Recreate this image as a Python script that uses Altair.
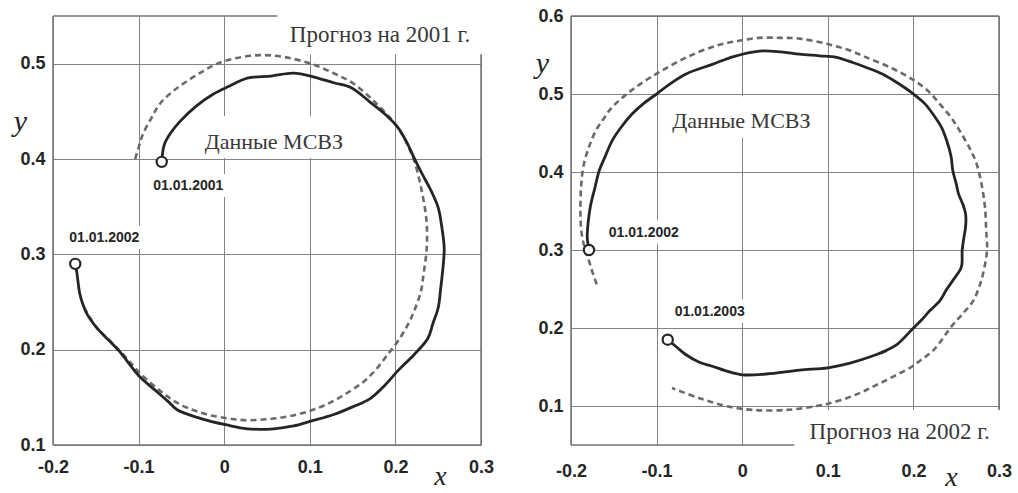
import altair as alt
import pandas as pd

# ---------------- data ----------------
# Left panel (forecast for 2001)
l_solid_x = [-0.073, -0.070, -0.062, -0.051, -0.032, -0.013, 0.005, 0.028, 0.055, 0.081, 0.105, 0.128,
             0.148, 0.170, 0.188, 0.203, 0.213, 0.222, 0.232, 0.241, 0.250, 0.254, 0.257, 0.256, 0.253,
             0.250, 0.244, 0.238, 0.222, 0.203, 0.188, 0.171, 0.150, 0.128, 0.101, 0.081, 0.058, 0.027,
             0.003, -0.028, -0.055, -0.066, -0.080, -0.098, -0.110, -0.122, -0.135, -0.148, -0.160,
             -0.166, -0.169, -0.172, -0.174]
l_solid_y = [0.397, 0.415, 0.428, 0.440, 0.456, 0.468, 0.476, 0.485, 0.487, 0.490, 0.486, 0.480,
             0.475, 0.460, 0.447, 0.433, 0.418, 0.401, 0.383, 0.368, 0.349, 0.330, 0.307, 0.290, 0.265,
             0.244, 0.228, 0.212, 0.195, 0.178, 0.163, 0.149, 0.140, 0.132, 0.125, 0.120, 0.117, 0.117,
             0.121, 0.128, 0.137, 0.146, 0.157, 0.171, 0.184, 0.198, 0.210, 0.222, 0.237,
             0.250, 0.260, 0.280, 0.290]
l_dash_x = [-0.104, -0.099, -0.095, -0.085, -0.075, -0.060, -0.043, -0.025, -0.008, 0.015, 0.042, 0.070,
            0.101, 0.128, 0.151, 0.178, 0.203, 0.214, 0.222, 0.230, 0.236, 0.237, 0.236, 0.233, 0.230,
            0.223, 0.215, 0.203, 0.191, 0.179, 0.165, 0.148, 0.125, 0.101, 0.075, 0.050, 0.025, 0.004,
            -0.020, -0.043, -0.060, -0.075, -0.098, -0.115, -0.133, -0.149, -0.163]
l_dash_y = [0.400, 0.415, 0.426, 0.443, 0.458, 0.471, 0.482, 0.492, 0.500, 0.506, 0.509, 0.507,
            0.500, 0.490, 0.479, 0.458, 0.433, 0.415, 0.398, 0.370, 0.338, 0.318, 0.300, 0.280, 0.262,
            0.243, 0.227, 0.209, 0.195, 0.181, 0.168, 0.157, 0.145, 0.136, 0.130, 0.127, 0.126, 0.128,
            0.132, 0.139, 0.147, 0.157, 0.175, 0.192, 0.209, 0.223, 0.243]

# Right panel (forecast for 2002)
r_solid_x = [-0.179, -0.181, -0.180, -0.177, -0.172, -0.167, -0.160, -0.152, -0.141, -0.129, -0.115,
             -0.100, -0.083, -0.065, -0.035, -0.010, 0.020, 0.045, 0.067, 0.090, 0.110, 0.130, 0.145,
             0.163, 0.176, 0.190, 0.200, 0.213, 0.223, 0.233, 0.239, 0.244, 0.246, 0.250, 0.253, 0.258,
             0.261, 0.261, 0.259, 0.257, 0.256, 0.246, 0.238, 0.231, 0.219, 0.210, 0.200, 0.181, 0.168,
             0.157, 0.126, 0.100, 0.067, 0.028, 0.000, -0.019, -0.035, -0.050, -0.066, -0.076, -0.087]
r_solid_y = [0.300, 0.316, 0.335, 0.358, 0.380, 0.402, 0.420, 0.440, 0.458, 0.474, 0.488,
             0.500, 0.514, 0.526, 0.538, 0.548, 0.555, 0.554, 0.551, 0.549, 0.547, 0.540, 0.534,
             0.526, 0.518, 0.508, 0.500, 0.488, 0.474, 0.457, 0.440, 0.420, 0.402, 0.385, 0.371, 0.358,
             0.346, 0.330, 0.316, 0.300, 0.278, 0.261, 0.248, 0.235, 0.222, 0.211, 0.200, 0.179, 0.171,
             0.166, 0.155, 0.149, 0.146, 0.141, 0.140, 0.145, 0.151, 0.156, 0.166, 0.175, 0.185]
r_dash_x = [-0.170, -0.175, -0.179, -0.185, -0.188, -0.189, -0.188, -0.185, -0.179, -0.171, -0.162,
            -0.152, -0.129, -0.100, -0.065, -0.030, -0.005, 0.020, 0.045, 0.067, 0.100, 0.125, 0.145,
            0.175, 0.200, 0.218, 0.231, 0.244, 0.254, 0.266, 0.274, 0.281, 0.284, 0.285, 0.286, 0.281,
            0.276, 0.270, 0.259, 0.246, 0.223, 0.210, 0.196, 0.177, 0.157, 0.140, 0.122, 0.100, 0.087,
            0.052, 0.012, -0.019, -0.050, -0.082]
r_dash_y = [0.256, 0.272, 0.286, 0.307, 0.325, 0.350, 0.384, 0.410, 0.432, 0.453, 0.468,
            0.483, 0.505, 0.526, 0.547, 0.562, 0.568, 0.572, 0.572, 0.571, 0.564, 0.556, 0.547,
            0.533, 0.518, 0.503, 0.487, 0.470, 0.453, 0.430, 0.410, 0.376, 0.350, 0.325, 0.300, 0.268,
            0.250, 0.235, 0.220, 0.204, 0.171, 0.160, 0.149, 0.138, 0.127, 0.118, 0.110, 0.103, 0.100,
            0.095, 0.095, 0.100, 0.110, 0.123]

x_ticks = [-0.2, -0.1, 0, 0.1, 0.2, 0.3]
l_y_ticks = [0.1, 0.2, 0.3, 0.4, 0.5]
r_y_ticks = [0.1, 0.2, 0.3, 0.4, 0.5, 0.6]

# annotation texts
l_title = "Прогноз на 2001 г."
r_title = "Прогноз на 2002 г."
series_label = "Данные МСВЗ"
l_dates = ["01.01.2001", "01.01.2002"]
r_dates = ["01.01.2002", "01.01.2003"]

# ---------------- style ----------------
SANS = "Liberation Sans"
SERIF = "Liberation Serif"
INK = "#252525"
DASH = "#6a6a6a"
GRID = "#828282"
FRAME = "#747474"


def make_panel(sx, sy, dx, dy, ydom, yticks, title, title_pos, title_box,
               lab_pos, lab_box, dates, date_pos, ytitle_xy, xtitle_xy, lab_pad):
    xdom = [-0.2, 0.3]
    xs = alt.Scale(domain=xdom, nice=False, zero=False)
    ys = alt.Scale(domain=ydom, nice=False, zero=False)
    xaxis = alt.Axis(values=x_ticks, labelExpr="toString(datum.value)", grid=True,
                     gridColor=GRID, gridWidth=1, domain=False, ticks=False, labelFlush=False,
                     labelFont=SANS, labelFontWeight="bold", labelFontSize=18,
                     labelColor=INK, labelPadding=lab_pad, title="x", titleFont=SERIF,
                     titleFontStyle="italic", titleFontWeight="normal", titleFontSize=28,
                     titleColor=INK, titleAngle=0, titleX=xtitle_xy[0], titleY=xtitle_xy[1],
                     titleAlign="center", titleBaseline="middle", zindex=0)
    yaxis = alt.Axis(values=yticks, labelExpr="toString(datum.value)", grid=True,
                     gridColor=GRID, gridWidth=1, domain=False, ticks=False, labelFlush=False,
                     labelFont=SANS, labelFontWeight="bold", labelFontSize=18,
                     labelColor=INK, labelPadding=8, title="y", titleFont=SERIF,
                     titleFontStyle="italic", titleFontWeight="normal", titleFontSize=30,
                     titleColor=INK, titleAngle=0, titleX=ytitle_xy[0], titleY=ytitle_xy[1],
                     titleAlign="center", titleBaseline="middle", zindex=0)

    def X(f):
        return alt.X(f, type="quantitative", scale=xs, axis=xaxis)

    def Y(f):
        return alt.Y(f, type="quantitative", scale=ys, axis=yaxis)

    solid = pd.DataFrame({"x": sx, "y": sy, "i": list(range(len(sx)))})
    dash = pd.DataFrame({"x": dx, "y": dy, "i": list(range(len(dx)))})

    frame = pd.DataFrame({
        "x": [xdom[0], xdom[0], xdom[0], xdom[1]],
        "x2": [xdom[1], xdom[1], xdom[0], xdom[1]],
        "y": [ydom[0], ydom[1], ydom[0], ydom[0]],
        "y2": [ydom[0], ydom[1], ydom[1], ydom[1]],
    })
    frame_l = alt.Chart(frame).mark_rule(color=FRAME, strokeWidth=1.5).encode(
        x=X("x"), x2="x2", y=Y("y"), y2="y2")

    boxes = pd.DataFrame({
        "x": [title_box[0], lab_box[0]], "x2": [title_box[1], lab_box[1]],
        "y": [title_box[2], lab_box[2]], "y2": [title_box[3], lab_box[3]],
    })
    box_l = alt.Chart(boxes).mark_rect(color="white").encode(
        x=X("x"), x2="x2", y=Y("y"), y2="y2")

    dates_df = pd.DataFrame({"x": [p[0] for p in date_pos], "y": [p[1] for p in date_pos],
                             "t": dates})
    halo = alt.Chart(dates_df).mark_text(font=SANS, fontWeight="bold", fontSize=14,
                                         stroke="white", strokeWidth=14, strokeJoin="round",
                                         color="white").encode(x=X("x"), y=Y("y"), text="t")
    date_txt = alt.Chart(dates_df).mark_text(font=SANS, fontWeight="bold", fontSize=14,
                                             color=INK).encode(x=X("x"), y=Y("y"), text="t")

    dash_l = alt.Chart(dash).mark_line(color=DASH, strokeWidth=2.6, strokeDash=[6, 4],
                                       interpolate="catmull-rom").encode(
        x=X("x"), y=Y("y"), order="i:Q")
    solid_l = alt.Chart(solid).mark_line(color=INK, strokeWidth=2.8,
                                         interpolate="catmull-rom").encode(
        x=X("x"), y=Y("y"), order="i:Q")

    ends = pd.DataFrame({"x": [sx[0], sx[-1]], "y": [sy[0], sy[-1]]})
    ends_l = alt.Chart(ends).mark_point(shape="circle", filled=True, fill="white",
                                        stroke=INK, strokeWidth=2.2, size=105, opacity=1).encode(
        x=X("x"), y=Y("y"))

    txt = pd.DataFrame({"x": [title_pos[0], lab_pos[0]], "y": [title_pos[1], lab_pos[1]],
                        "t": [title, series_label], "s": [23, 22]})
    serif_txt = alt.Chart(txt).mark_text(font=SERIF, color="#383838",
                                         baseline="alphabetic").encode(
        x=X("x"), y=Y("y"), text="t", size=alt.Size("s:Q", scale=None, legend=None))

    return alt.layer(frame_l, box_l, halo, dash_l, solid_l, ends_l, date_txt, serif_txt
                     ).properties(width=428, height=429)


left = make_panel(
    l_solid_x, l_solid_y, l_dash_x, l_dash_y, [0.1, 0.55], l_y_ticks,
    l_title, (0.182, 0.523), (0.062, 0.31, 0.51, 0.56),
    (0.058, 0.411), (-0.040, 0.155, 0.401, 0.445),
    l_dates, [(-0.042, 0.372), (-0.140, 0.317)],
    (-33, 105), (387, 31), 13)

right = make_panel(
    r_solid_x, r_solid_y, r_dash_x, r_dash_y, [0.05, 0.6], r_y_ticks,
    r_title, (0.184, 0.058), (0.061, 0.31, 0.04, 0.095),
    (-0.001, 0.457), (-0.097, 0.097, 0.444, 0.497),
    r_dates, [(-0.115, 0.322), (-0.038, 0.221)],
    (-29, 47), (380, 32), 17)

chart = alt.hconcat(left, right, spacing=41).properties(
    padding={"left": 13, "top": 6, "right": 2, "bottom": 2},
    background="white",
).configure_view(stroke=None)

chart.save("out.html", embed_options={"renderer": "svg", "actions": False})
